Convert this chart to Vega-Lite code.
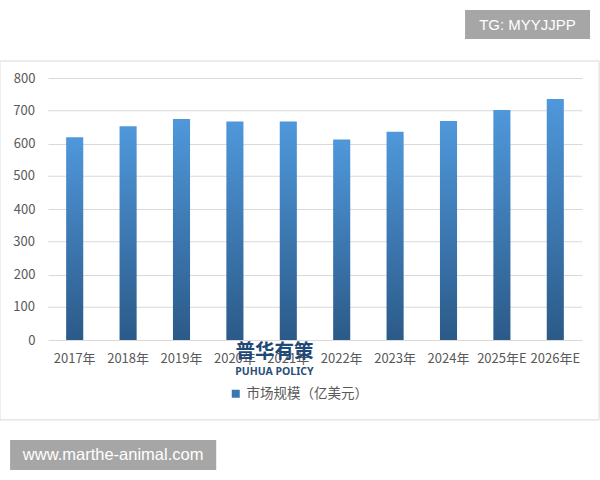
{
  "$schema": "https://vega.github.io/schema/vega-lite/v6.json",
  "width": 534,
  "height": 262,
  "autosize": {"type": "none"},
  "padding": {"left": 48, "top": 78, "right": 18, "bottom": 140},
  "background": "white",
  "config": {
    "view": {"stroke": null},
    "font": "Noto Sans CJK SC"
  },
  "resolve": {"scale": {"x": "independent", "y": "independent"}, "axis": {"x": "independent", "y": "independent"}},
  "layer": [
    {
      "data": {"values": [{"name": "frame", "x1": -0.9, "x2": 10.32, "y1": 852, "y2": -244}]},
      "mark": {"type": "rect", "clip": false, "fill": null, "stroke": "#d9d9d9", "strokeWidth": 1},
      "encoding": {
        "x": {"field": "x1", "type": "quantitative", "scale": {"domain": [0, 10], "nice": false, "zero": false}, "axis": null},
        "x2": {"field": "x2"},
        "y": {"field": "y1", "type": "quantitative", "scale": {"domain": [0, 800], "nice": false, "zero": false}, "axis": null},
        "y2": {"field": "y2"}
      }
    },
    {
      "data": {"values": [{"tick": 100}, {"tick": 300}, {"tick": 500}, {"tick": 700}]},
      "mark": {"type": "rule", "clip": false, "color": "#d9d9d9", "strokeWidth": 1},
      "encoding": {
        "y": {"field": "tick", "type": "quantitative", "scale": {"domain": [0, 800], "nice": false, "zero": false}, "axis": null}
      }
    },
    {
      "data": {"values": [{"label": "100", "tick": 100, "xi": -0.243}, {"label": "300", "tick": 300, "xi": -0.243}, {"label": "500", "tick": 500, "xi": -0.243}, {"label": "700", "tick": 700, "xi": -0.243}]},
      "mark": {"type": "text", "clip": false, "align": "right", "baseline": "middle", "fontSize": 13, "color": "#595959", "font": "Noto Sans CJK SC"},
      "encoding": {
        "x": {"field": "xi", "type": "quantitative", "scale": {"domain": [0, 10], "nice": false, "zero": false}, "axis": null},
        "y": {"field": "tick", "type": "quantitative", "scale": {"domain": [0, 800], "nice": false, "zero": false}, "axis": null},
        "text": {"field": "label"}
      }
    },
    {
      "data": {"values": [{"year": "2017年", "value": 619}, {"year": "2018年", "value": 653}, {"year": "2019年", "value": 675}, {"year": "2020年", "value": 667}, {"year": "2021年", "value": 667}, {"year": "2022年", "value": 612}, {"year": "2023年", "value": 636}, {"year": "2024年", "value": 669}, {"year": "2025年E", "value": 702}, {"year": "2026年E", "value": 736}]},
      "mark": {"type": "bar", "color": {"gradient": "linear", "x1": 0, "y1": 0, "x2": 0, "y2": 1, "stops": [{"offset": 0, "color": "#4f98db"}, {"offset": 1, "color": "#2b5a88"}]}},
      "encoding": {
        "x": {"field": "year", "type": "nominal", "sort": null, "scale": {"paddingInner": 0.68, "paddingOuter": 0.34},
          "axis": {"title": null, "labelAngle": 0, "ticks": false, "domain": false, "labelPadding": 12, "labelFontSize": 13, "labelColor": "#595959", "labelFont": "Noto Sans CJK SC"}},
        "y": {"field": "value", "type": "quantitative", "scale": {"domain": [0, 800], "nice": false, "zero": true},
          "axis": {"title": null, "grid": true, "tickCount": 8, "values": [0, 100, 200, 300, 400, 500, 600, 700, 800], "labelOverlap": false, "ticks": false, "domain": false, "labelPadding": 13, "labelFontSize": 13, "labelColor": "#595959", "gridColor": "#d9d9d9", "gridWidth": 1, "gridOpacity": 1, "labelFont": "Noto Sans CJK SC", "zindex": 0}}
      }
    },
    {
      "data": {"values": [{"series": "市场规模（亿美元）", "value": 0}]},
      "mark": {"type": "square", "opacity": 0, "clip": true},
      "encoding": {
        "y": {"field": "value", "type": "quantitative", "scale": {"domain": [0, 800], "nice": false}, "axis": null},
        "color": {"field": "series", "type": "nominal",
          "scale": {"range": ["#3b76b0"]},
          "legend": {"title": null, "orient": "none", "legendX": 181, "legendY": 309, "symbolType": "square", "symbolSize": 64, "symbolOpacity": 1, "symbolStrokeWidth": 0, "labelFontSize": 13.5, "labelColor": "#595959", "padding": 0, "labelFont": "Noto Sans CJK SC"}}
      }
    },
    {
      "data": {"values": [{"label": "普华有策", "xi": 4.24, "yv": -37}]},
      "mark": {"type": "text", "clip": false, "fontSize": 19.5, "fontWeight": "bold", "color": "#1f4a78", "font": "Noto Sans CJK SC"},
      "encoding": {
        "x": {"field": "xi", "type": "quantitative", "scale": {"domain": [0, 10], "nice": false, "zero": false}, "axis": null},
        "y": {"field": "yv", "type": "quantitative", "scale": {"domain": [0, 800], "nice": false, "zero": false}, "axis": null},
        "text": {"field": "label"}
      }
    },
    {
      "data": {"values": [{"label": "PUHUA POLICY", "xi": 4.24, "yv": -98}]},
      "mark": {"type": "text", "clip": false, "fontSize": 10.5, "fontWeight": "bold", "color": "#2a4f78", "font": "Noto Sans"},
      "encoding": {
        "x": {"field": "xi", "type": "quantitative", "scale": {"domain": [0, 10], "nice": false, "zero": false}, "axis": null},
        "y": {"field": "yv", "type": "quantitative", "scale": {"domain": [0, 800], "nice": false, "zero": false}, "axis": null},
        "text": {"field": "label"}
      }
    },
    {
      "data": {"values": [{"name": "tg", "x1": 7.81, "x2": 10.15, "y1": 1008, "y2": 919}, {"name": "site", "x1": -0.71, "x2": 3.15, "y1": -305, "y2": -397}]},
      "mark": {"type": "rect", "clip": false, "fill": "#a6a6a6"},
      "encoding": {
        "x": {"field": "x1", "type": "quantitative", "scale": {"domain": [0, 10], "nice": false, "zero": false}, "axis": null},
        "x2": {"field": "x2"},
        "y": {"field": "y1", "type": "quantitative", "scale": {"domain": [0, 800], "nice": false, "zero": false}, "axis": null},
        "y2": {"field": "y2"}
      }
    },
    {
      "data": {"values": [{"label": "TG: MYYJJPP", "xi": 8.98, "yv": 962}]},
      "mark": {"type": "text", "clip": false, "fontSize": 15, "color": "white", "font": "Liberation Sans"},
      "encoding": {
        "x": {"field": "xi", "type": "quantitative", "scale": {"domain": [0, 10], "nice": false, "zero": false}, "axis": null},
        "y": {"field": "yv", "type": "quantitative", "scale": {"domain": [0, 800], "nice": false, "zero": false}, "axis": null},
        "text": {"field": "label"}
      }
    },
    {
      "data": {"values": [{"label": "www.marthe-animal.com", "xi": 1.22, "yv": -351}]},
      "mark": {"type": "text", "clip": false, "fontSize": 16.5, "color": "white", "font": "Liberation Sans"},
      "encoding": {
        "x": {"field": "xi", "type": "quantitative", "scale": {"domain": [0, 10], "nice": false, "zero": false}, "axis": null},
        "y": {"field": "yv", "type": "quantitative", "scale": {"domain": [0, 800], "nice": false, "zero": false}, "axis": null},
        "text": {"field": "label"}
      }
    }
  ]
}
